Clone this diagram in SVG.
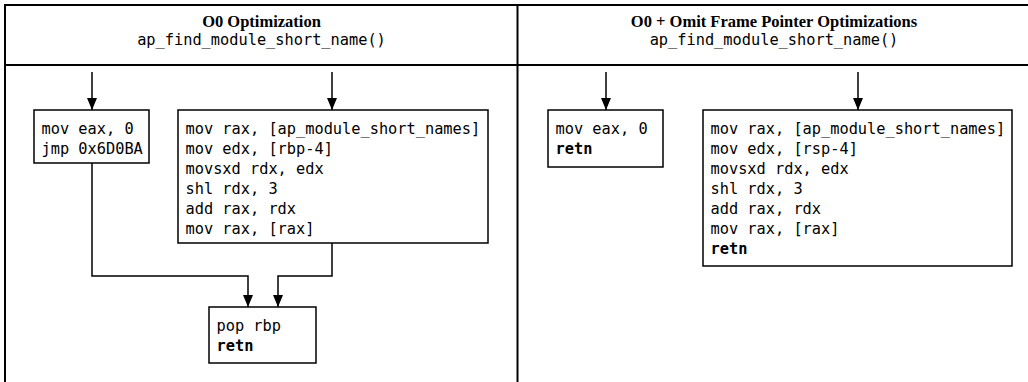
<svg xmlns="http://www.w3.org/2000/svg" width="1028" height="382" viewBox="0 0 1028 382">
  <style>
    .frame { fill: none; stroke: #000; stroke-width: 2; }
    .box { fill: #fff; stroke: #000; stroke-width: 1.5; }
    .conn { fill: none; stroke: #000; stroke-width: 1.5; }
    .title { font-family: "Liberation Serif", "Times New Roman", serif; font-weight: bold; font-size: 16.5px; fill: #000; text-anchor: middle; }
    .func { font-family: "DejaVu Sans Mono", "Liberation Mono", monospace; font-size: 15.3px; fill: #000; text-anchor: middle; }
    .code { font-family: "DejaVu Sans Mono", "Liberation Mono", monospace; font-size: 15.3px; fill: #000; }
    .b { font-weight: bold; }
  </style>
  <defs>
    <marker id="arrow" viewBox="0 0 12 12" refX="12" refY="6" markerWidth="12" markerHeight="12" markerUnits="userSpaceOnUse" orient="auto">
      <path d="M0,1 L12,6 L0,11 z" fill="#000"/>
    </marker>
  </defs>
  <rect width="1028" height="382" fill="#fff"/>

  <g id="frame">
    <rect class="frame" x="5" y="5" width="1030" height="390"/>
    <line class="frame" x1="5" y1="65" x2="1035" y2="65"/>
    <line class="frame" x1="517.5" y1="5" x2="517.5" y2="395"/>
  </g>

  <g id="header-left">
    <text class="title" x="261.5" y="26.5">O0 Optimization</text>
    <text class="func" x="261.5" y="44.5">ap_find_module_short_name()</text>
  </g>
  <g id="header-right">
    <text class="title" x="774" y="26.5">O0 + Omit Frame Pointer Optimizations</text>
    <text class="func" x="774" y="44.5">ap_find_module_short_name()</text>
  </g>

  <g id="connectors">
    <path class="conn" d="M92,72 V110" marker-end="url(#arrow)"/>
    <path class="conn" d="M332,72 V110" marker-end="url(#arrow)"/>
    <path class="conn" d="M92,163 V276 H248 V307" marker-end="url(#arrow)"/>
    <path class="conn" d="M332,243 V276 H278 V307" marker-end="url(#arrow)"/>
    <path class="conn" d="M606,72 V110" marker-end="url(#arrow)"/>
    <path class="conn" d="M858,72 V110" marker-end="url(#arrow)"/>
  </g>

  <g id="left-block1">
    <rect class="box" x="34" y="110" width="115" height="53"/>
    <text class="code" x="41.5" y="133.5">mov eax, 0</text>
    <text class="code" x="41.5" y="153.5">jmp 0x6D0BA</text>
  </g>
  <g id="left-block2">
    <rect class="box" x="178" y="110" width="310" height="133"/>
    <text class="code" x="185.5" y="133.5">mov rax, [ap_module_short_names]</text>
    <text class="code" x="185.5" y="153.5">mov edx, [rbp-4]</text>
    <text class="code" x="185.5" y="173.5">movsxd rdx, edx</text>
    <text class="code" x="185.5" y="193.5">shl rdx, 3</text>
    <text class="code" x="185.5" y="213.5">add rax, rdx</text>
    <text class="code" x="185.5" y="233.5">mov rax, [rax]</text>
  </g>
  <g id="left-block3">
    <rect class="box" x="209" y="307" width="107" height="56"/>
    <text class="code" x="216.5" y="330.5">pop rbp</text>
    <text class="code b" x="216.5" y="350.5">retn</text>
  </g>

  <g id="right-block1">
    <rect class="box" x="548" y="110" width="115" height="57"/>
    <text class="code" x="555.5" y="133.5">mov eax, 0</text>
    <text class="code b" x="555.5" y="153.5">retn</text>
  </g>
  <g id="right-block2">
    <rect class="box" x="703" y="110" width="309" height="156"/>
    <text class="code" x="710.5" y="133.5">mov rax, [ap_module_short_names]</text>
    <text class="code" x="710.5" y="153.5">mov edx, [rsp-4]</text>
    <text class="code" x="710.5" y="173.5">movsxd rdx, edx</text>
    <text class="code" x="710.5" y="193.5">shl rdx, 3</text>
    <text class="code" x="710.5" y="213.5">add rax, rdx</text>
    <text class="code" x="710.5" y="233.5">mov rax, [rax]</text>
    <text class="code b" x="710.5" y="253.5">retn</text>
  </g>
</svg>
